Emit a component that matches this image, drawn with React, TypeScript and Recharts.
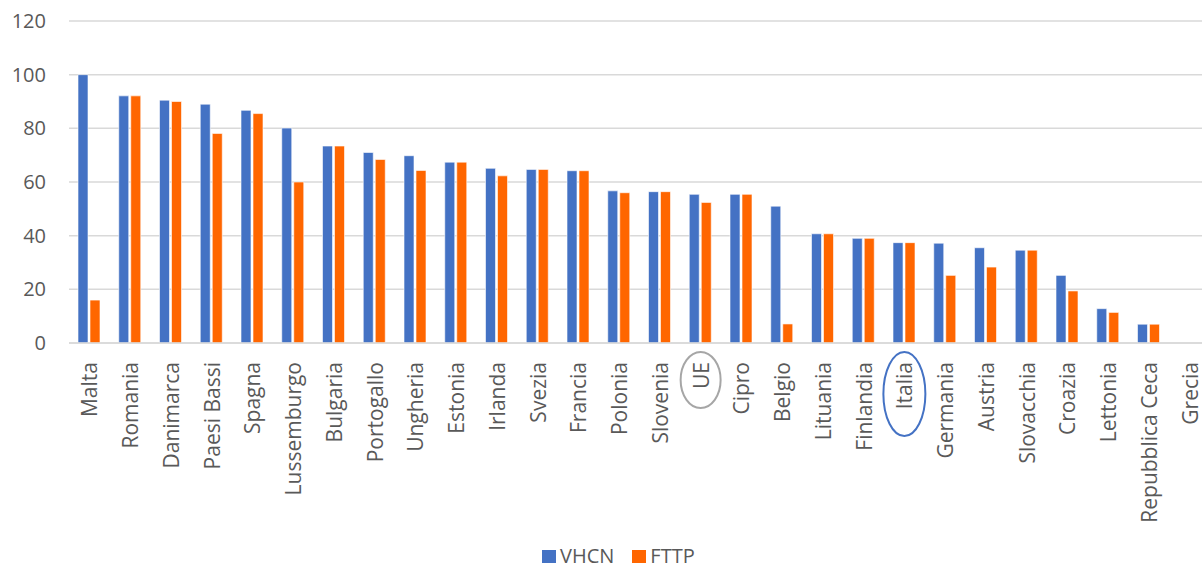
import React from 'react';
import { BarChart, Bar, XAxis, YAxis, CartesianGrid, Legend } from 'recharts';

const countries = [
  'Malta', 'Romania', 'Danimarca', 'Paesi Bassi', 'Spagna', 'Lussemburgo', 'Bulgaria',
  'Portogallo', 'Ungheria', 'Estonia', 'Irlanda', 'Svezia', 'Francia', 'Polonia',
  'Slovenia', 'UE', 'Cipro', 'Belgio', 'Lituania', 'Finlandia', 'Italia', 'Germania',
  'Austria', 'Slovacchia', 'Croazia', 'Lettonia', 'Repubblica Ceca', 'Grecia',
];

const vhcn = [
  100, 92.1, 90.5, 89.0, 86.7, 80.1, 73.4, 71.0, 69.8, 67.4, 65.1, 64.7, 64.2, 56.7,
  56.4, 55.4, 55.4, 51.0, 40.7, 39.0, 37.4, 37.2, 35.5, 34.6, 25.2, 12.8, 7.0, 0,
];

const fttp = [
  16.0, 92.1, 90.0, 78.1, 85.5, 60.0, 73.4, 68.4, 64.3, 67.4, 62.3, 64.7, 64.2, 56.0,
  56.4, 52.4, 55.4, 7.1, 40.7, 39.0, 37.4, 25.2, 28.3, 34.6, 19.4, 11.4, 7.0, 0,
];

const yTicks = [0, 20, 40, 60, 80, 100, 120];

const data = countries.map((name, i) => ({ name, VHCN: vhcn[i], FTTP: fttp[i] }));

const FONT = '"Open Sans", "Noto Sans", sans-serif';
const TEXT = '#595959';

// labels that get a hand-drawn ring around them in the original
const rings: Record<string, { cy: number; rx: number; ry: number; color: string }> = {
  UE: { cy: 18, rx: 20, ry: 28, color: '#a6a6a6' },
  Italia: { cy: 32, rx: 21, ry: 42, color: '#4472C4' },
};

const CountryTick = (props: any) => {
  const { x, y, payload } = props;
  const ring = rings[payload.value];
  return (
    <g transform={`translate(${x},${y + 11})`}>
      {ring && (
        <ellipse cx={0} cy={ring.cy} rx={ring.rx} ry={ring.ry} fill="none" stroke={ring.color} strokeWidth={2} />
      )}
      <text
        x={0}
        y={0}
        transform="rotate(-90)"
        textAnchor="end"
        dominantBaseline="central"
        fontFamily={FONT}
        fontSize={21}
        fill={TEXT}
      >
        {payload.value}
      </text>
    </g>
  );
};

const LegendContent = () => (
  <div style={{ height: 36, display: 'flex', alignItems: 'flex-end', paddingLeft: 542, fontFamily: FONT, fontSize: 20, color: TEXT, lineHeight: '20px' }}>
    <div style={{ display: 'flex', alignItems: 'center', marginRight: 18 }}>
      <div style={{ width: 14, height: 13, backgroundColor: '#4472C4', marginRight: 4 }}></div>
      <span>VHCN</span>
    </div>
    <div style={{ display: 'flex', alignItems: 'center' }}>
      <div style={{ width: 14, height: 13, backgroundColor: '#FF6600', marginRight: 4 }}></div>
      <span>FTTP</span>
    </div>
  </div>
);

const App: React.FC = () => {
  return (
    <div style={{ position: 'absolute', left: 0, top: 0, width: 1202, height: 566, overflow: 'hidden', background: '#fff' }}>
      <BarChart
        width={1210}
        height={566}
        data={data}
        margin={{ top: 21, right: 0, left: 0, bottom: 0 }}
        barSize={10}
        barGap={2}
      >
        <CartesianGrid vertical={false} stroke="#d9d9d9" strokeWidth={1.5} />
        <XAxis
          dataKey="name"
          interval={0}
          height={187}
          tickLine={false}
          axisLine={{ stroke: '#d9d9d9', strokeWidth: 1.5 }}
          tick={<CountryTick />}
        />
        <YAxis
          width={69}
          domain={[0, 120]}
          ticks={yTicks}
          axisLine={false}
          tickLine={false}
          tickSize={6}
          tickMargin={17}
          tick={{ fontFamily: FONT, fontSize: 20, fill: TEXT }}
        />
        <Legend verticalAlign="bottom" wrapperStyle={{ bottom: 0 }} content={<LegendContent />} />
        <Bar dataKey="VHCN" fill="#4472C4" stroke="#ffffff" strokeWidth={0.6} isAnimationActive={false} />
        <Bar dataKey="FTTP" fill="#FF6600" stroke="#ffffff" strokeWidth={0.6} isAnimationActive={false} />
      </BarChart>
    </div>
  );
};

export default App;
